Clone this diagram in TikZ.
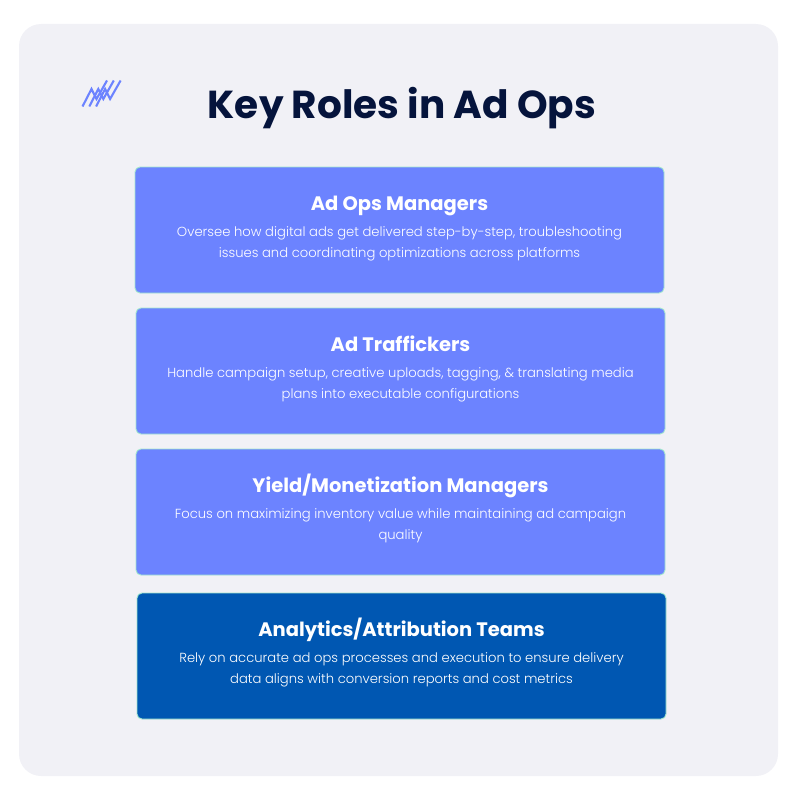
\documentclass[tikz,border=0pt]{standalone}
\usepackage{fontspec}
\setmainfont{Poppins}
\newfontfamily\lightfont{Poppins Light}
\usetikzlibrary{
  positioning,
  calc,
}
\definecolor{panelbg}{RGB}{241,241,246}
\definecolor{cardblue}{RGB}{108,131,255}
\definecolor{carddark}{RGB}{0,87,178}
\definecolor{cardedge}{RGB}{160,230,205}
\definecolor{titleink}{RGB}{5,20,60}
\tikzset{
  panelbox/.style={
    rectangle, fill=panelbg, rounded corners=22pt,
    minimum width=759pt, minimum height=752pt, inner sep=0pt
  },
  rolecard/.style={
    rectangle, draw=cardedge, fill=cardblue, rounded corners=5pt, outer sep=0pt,
    minimum width=529pt, minimum height=126pt, inner sep=0pt, line width=0.9pt
  },
  rolehead/.style={
    font=\fontsize{19.5}{24}\selectfont\bfseries, text=white, inner sep=0pt,
    text height=14pt, text depth=4pt
  },
  roletext/.style={
    font=\lightfont\fontsize{13.15}{21}\selectfont, text=white, align=center, inner sep=0pt
  },
  logoline/.style={draw=cardblue, line width=2.1pt},
}

\begin{document}
\begin{tikzpicture}[x=1pt, y=-1pt]

  \useasboundingbox (0,0) rectangle (800,800);

  % -- Panel --
  \node[panelbox] (panel) at (398.5,400) {};

  % -- Logo --
  \foreach \k in {0,1,2} {
    \draw[logoline] (82.5+6.8*\k,106.5) -- ++(9,-17.5) -- ++(5,10) -- ++(10.5,-18.5);
  }

  % -- Title --
  \node[font=\fontsize{39}{44}\selectfont\bfseries, text=titleink, inner sep=0pt] (title) at (402,108.5)
    {Key Roles in Ad Ops};

  % -- Cards --
  \node[rolecard] (C1) at (399.5,230) {};
  \node[rolecard, below=15pt of C1, xshift=1pt] (C2) {};
  \node[rolecard, below=15pt of C2] (C3) {};
  \node[rolecard, fill=carddark, below=18pt of C3, xshift=1pt] (C4) {};

  % -- Card 1 --
  \node[rolehead] (C1head) at ($(C1.north)+(0,38)$) {Ad Ops Managers};
  \node[roletext] (C1text) at ($(C1.north)+(0,76.5)$)
    {Oversee how digital ads get delivered step-by-step, troubleshooting\\
     issues and coordinating optimizations across platforms};

  % -- Card 2 --
  \node[rolehead] (C2head) at ($(C2.north)+(0,38)$) {Ad Traffickers};
  \node[roletext] (C2text) at ($(C2.north)+(0,76.5)$)
    {Handle campaign setup, creative uploads, tagging, \& translating media\\
     plans into executable configurations};

  % -- Card 3 --
  \node[rolehead] (C3head) at ($(C3.north)+(0,38)$) {Yield/Monetization Managers};
  \node[roletext] (C3text) at ($(C3.north)+(0,76.5)$)
    {Focus on maximizing inventory value while maintaining ad campaign\\
     quality};

  % -- Card 4 --
  \node[rolehead] (C4head) at ($(C4.north)+(0,38)$) {Analytics/Attribution Teams};
  \node[roletext] (C4text) at ($(C4.north)+(0,76.5)$)
    {Rely on accurate ad ops processes and execution to ensure delivery\\
     data aligns with conversion reports and cost metrics};

\end{tikzpicture}
\end{document}
